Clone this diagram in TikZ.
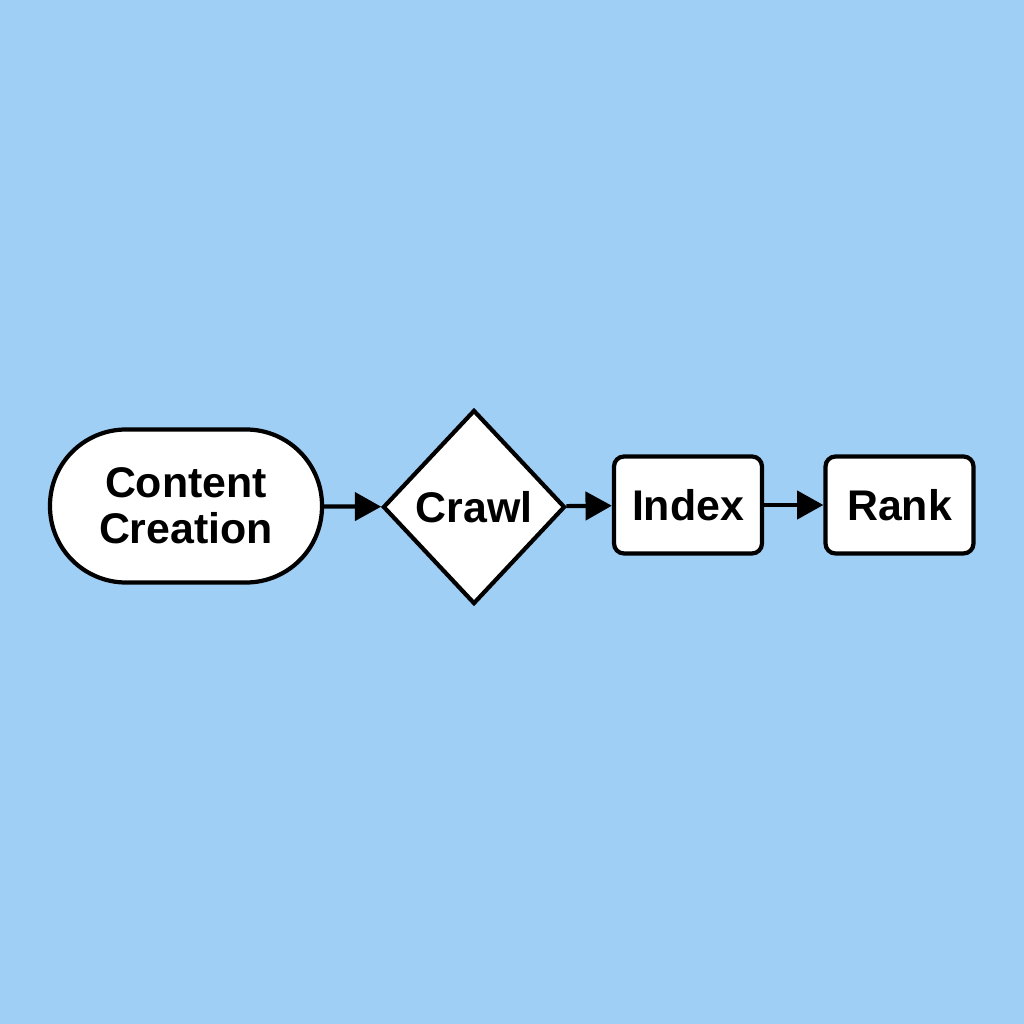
\documentclass[tikz,border=0pt]{standalone}
\usepackage{fontspec}
\setmainfont{Liberation Sans}
\usetikzlibrary{shapes.geometric, arrows.meta}
\definecolor{skyblue}{RGB}{160,207,245}
\tikzstyle{arrow} = [line width=1.2pt,-{Triangle[length=7.5pt,width=8pt]}]
\tikzstyle{box} = [rectangle, draw, fill=white, line width=1.2pt, rounded corners=0.1cm, minimum width=1.48cm, minimum height=0.97cm]

\begin{document}
\begin{tikzpicture}[font=\fontsize{12.2}{13.2}\selectfont\bfseries]

\useasboundingbox[fill=skyblue] (0,0) rectangle (10.24,10.24);

\node[rectangle, draw, fill=white, line width=1.2pt, rounded corners=0.76cm, minimum width=2.72cm, minimum height=1.53cm, align=center] (creation) at (1.86,5.18) {Content\\Creation};

\node[diamond, draw, fill=white, line width=1.2pt, inner sep=0pt, minimum width=1.82cm, minimum height=1.94cm] (crawl) at (4.74,5.17) {Crawl};

\node[box] (index) at (6.88,5.19) {Index};
\node[box] (rank) at (8.995,5.19) {Rank};

\draw [arrow] (creation) -- (crawl);
\draw [arrow] (crawl) -- (index);
\draw [arrow] (index) -- (rank);

\end{tikzpicture}
\end{document}
